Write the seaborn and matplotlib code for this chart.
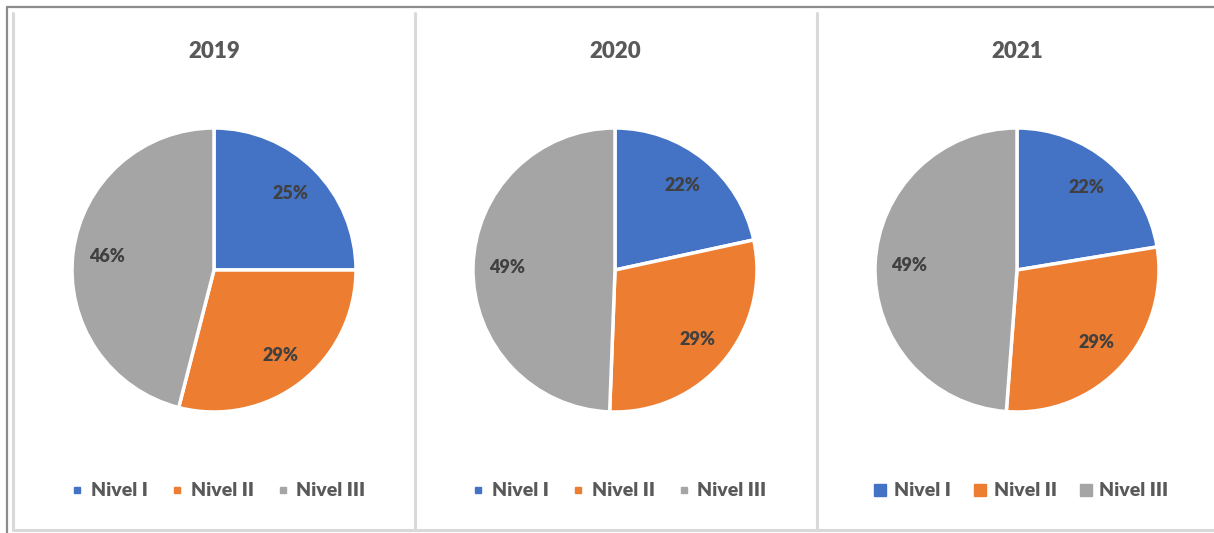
import matplotlib
matplotlib.use("Agg")
import matplotlib.pyplot as plt
import seaborn as sns
from matplotlib.lines import Line2D
from matplotlib import font_manager

anos = ["2019", "2020", "2021"]
niveles = ["Nivel I", "Nivel II", "Nivel III"]
pct_2019 = [25.0, 29.0, 46.0]
pct_2020 = [21.6, 29.0, 49.4]
pct_2021 = [22.4, 28.8, 48.8]
valores = [pct_2019, pct_2020, pct_2021]

colores = ["#4472C4", "#ED7D31", "#A5A5A5"]

sns.set_style("white")
plt.rcParams["font.family"] = ["Lato", "DejaVu Sans"]
print(sorted({(f.name, f.weight) for f in font_manager.fontManager.ttflist if f.name in ("Lato", "Open Sans", "Roboto")}))

W, H = 1214, 533
fig = plt.figure(figsize=(W / 100, H / 100), dpi=100)

# panel frames
fig.add_artist(Line2D([7 / W, 1], [1 - 7 / H, 1 - 7 / H], color="#8C8C8C", lw=1.6))
fig.add_artist(Line2D([7 / W, 7 / W], [0, 1 - 7 / H], color="#8C8C8C", lw=1.6))
fig.add_artist(Line2D([13 / W, 1], [1 - 530 / H, 1 - 530 / H], color="#D9D9D9", lw=2.2))
for x in [13, 415, 817]:
    fig.add_artist(Line2D([x / W, x / W], [1 - 530 / H, 1 - 13 / H], color="#D9D9D9", lw=2.2))

centros = [214, 615, 1017]
r = 142
cy = 270
legend_ms = [5, 5, 9]

for i, (ano, vals) in enumerate(zip(anos, valores)):
    cx = centros[i]
    ax = fig.add_axes([(cx - r) / W, (H - cy - r) / H, 2 * r / W, 2 * r / H])
    wedges, texts, autotexts = ax.pie(
        vals, colors=colores, startangle=90, counterclock=False,
        autopct="%.0f%%", pctdistance=0.76,
        wedgeprops=dict(edgecolor="white", linewidth=2.5),
        textprops=dict(fontsize=13, fontweight="heavy", color="#404040"),
    )
    ax.set_xlim(-1, 1)
    ax.set_ylim(-1, 1)
    ax.axis("off")
    for w in wedges:
        w.set_clip_on(False)

    fig.text(cx / W, 1 - 52 / H, ano, ha="center", va="center",
             fontsize=16, fontweight="heavy", color="#595959")

    handles = [Line2D([], [], marker="s", linestyle="", markersize=legend_ms[i],
                      markerfacecolor=c, markeredgecolor=c) for c in colores]
    fig.legend(handles, niveles, loc="center", bbox_to_anchor=(cx / W + 0.003, 1 - 491 / H),
               ncol=3, frameon=False, handlelength=0.8, handletextpad=0.3,
               columnspacing=1.1, prop=dict(size=14, weight="heavy"),
               labelcolor="#595959")

fig.savefig("out.png", dpi=100, facecolor="white")
